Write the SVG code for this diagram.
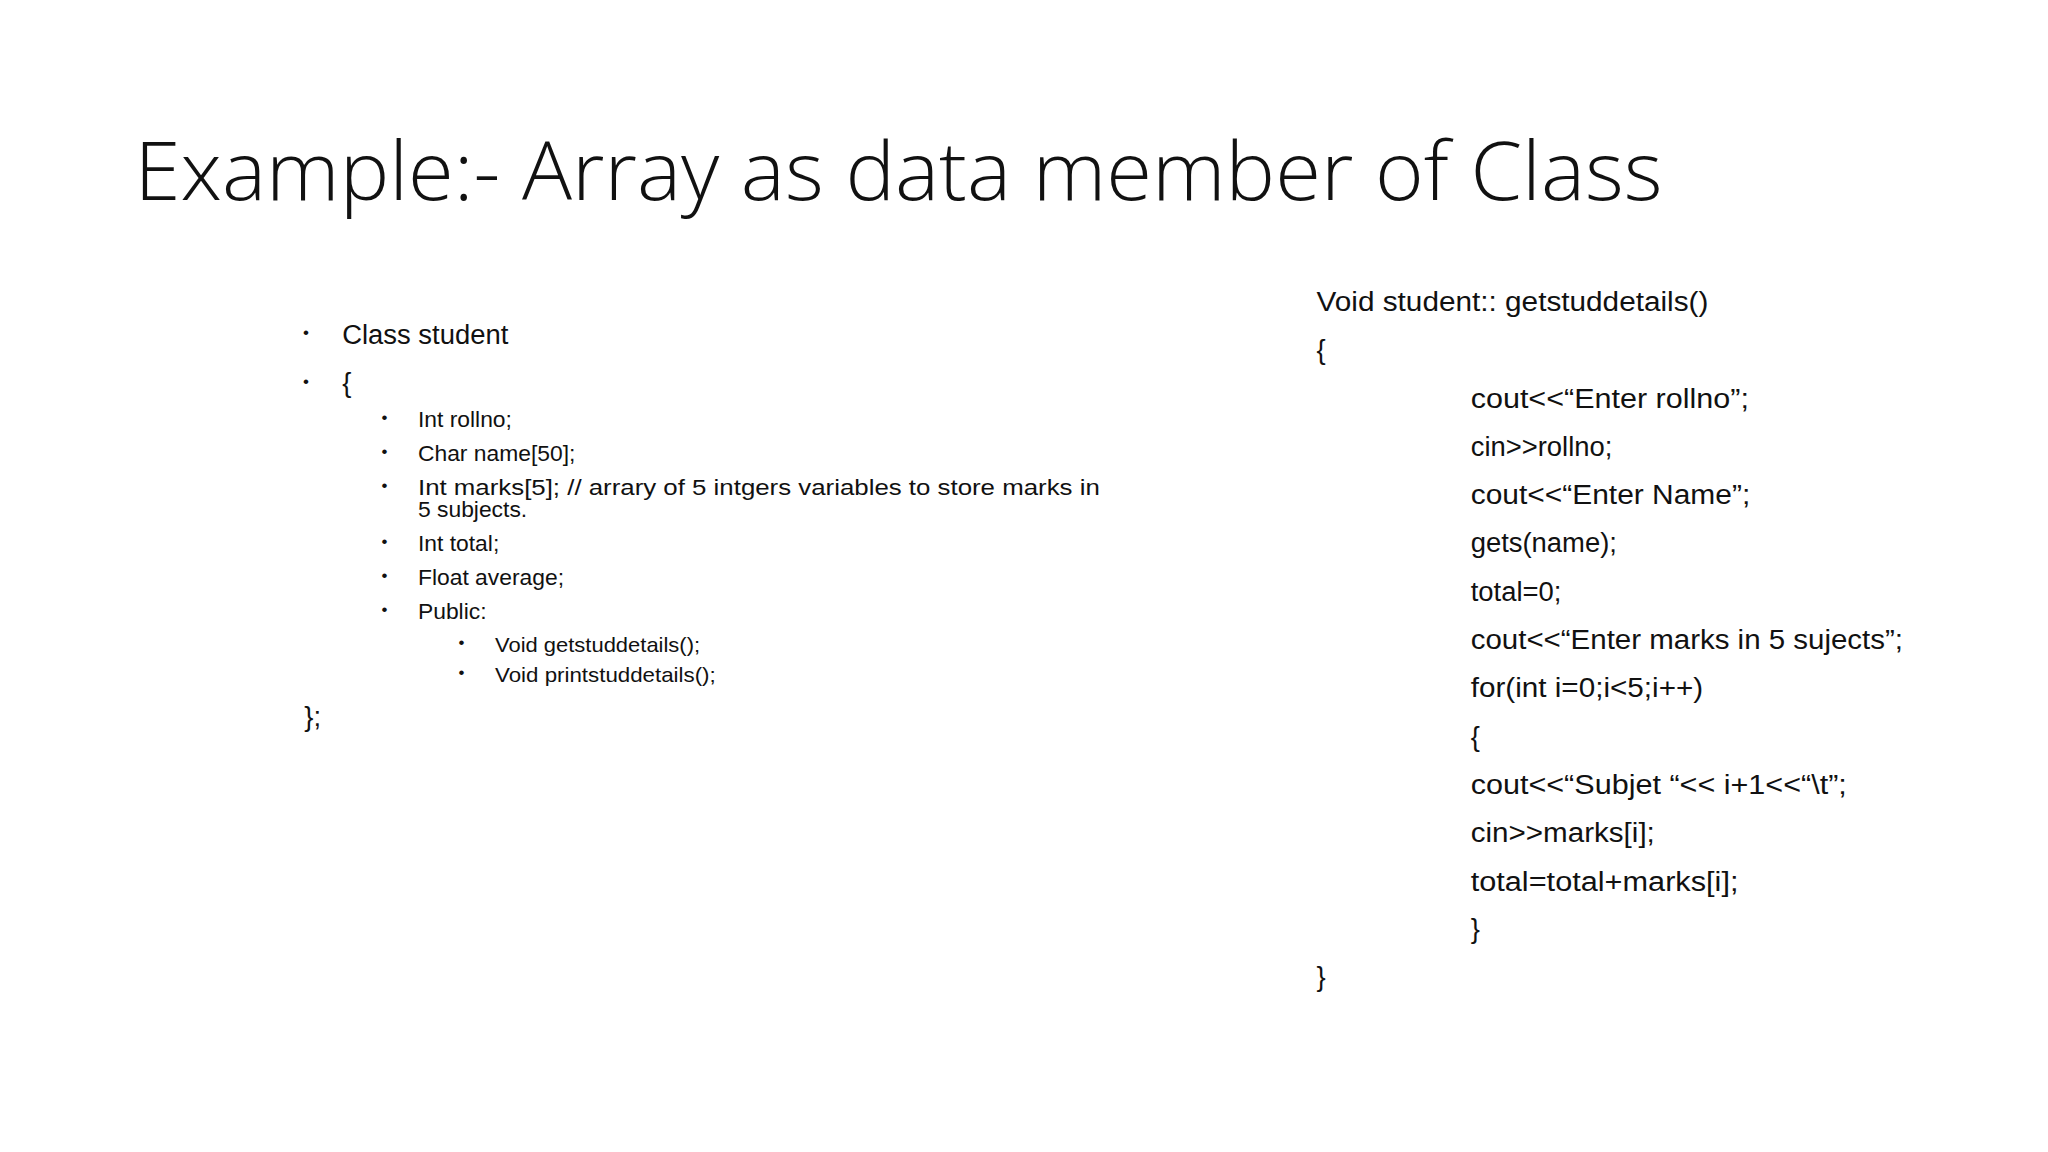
<svg xmlns="http://www.w3.org/2000/svg" width="2048" height="1152" viewBox="0 0 2048 1152">
<style>
text{font-family:"Liberation Sans",Arial,sans-serif;fill:#111}
.t{font-family:"Open Sans","Liberation Sans",sans-serif;font-size:62px;font-weight:300}
.l1{font-size:21px}
.l2{font-size:17.5px}
.l3{font-size:15px}
.r{font-size:21px}
.b{font-size:13px}
</style>
<rect width="2048" height="1152" fill="#fff"/>
<g transform="scale(1.30612)">
<g id="title"><text class="t" x="103" y="153" textLength="1170" lengthAdjust="spacingAndGlyphs">Example:- Array as data member of Class</text></g>
<g id="left">
<text class="b" x="232" y="259">•</text><text class="l1" x="262" y="263">Class student</text>
<text class="b" x="232" y="296">•</text><text class="l1" x="262" y="300">{</text>
<text class="b" x="292" y="324">•</text><text class="l2" x="320" y="327">Int rollno;</text>
<text class="b" x="292" y="350">•</text><text class="l2" x="320" y="353">Char name[50];</text>
<text class="b" x="292" y="376">•</text><text class="l2" x="320" y="379" textLength="522" lengthAdjust="spacingAndGlyphs">Int marks[5]; // arrary of 5 intgers variables to store marks in</text>
<text class="l2" x="320" y="396">5 subjects.</text>
<text class="b" x="292" y="419">•</text><text class="l2" x="320" y="422">Int total;</text>
<text class="b" x="292" y="445">•</text><text class="l2" x="320" y="448">Float average;</text>
<text class="b" x="292" y="471">•</text><text class="l2" x="320" y="474">Public:</text>
<text class="b" x="351" y="496">•</text><text class="l3" x="379" y="499" textLength="157" lengthAdjust="spacingAndGlyphs">Void getstuddetails();</text>
<text class="b" x="351" y="519">•</text><text class="l3" x="379" y="522" textLength="169" lengthAdjust="spacingAndGlyphs">Void printstuddetails();</text>
<text class="l1" x="233" y="556">};</text>
</g>
<g id="right">
<text class="r" x="1008" y="238" textLength="300" lengthAdjust="spacingAndGlyphs">Void student:: getstuddetails()</text>
<text class="r" x="1008" y="275">{</text>
<text class="r" x="1126" y="312" textLength="213" lengthAdjust="spacingAndGlyphs">cout&lt;&lt;“Enter rollno”;</text>
<text class="r" x="1126" y="349">cin&gt;&gt;rollno;</text>
<text class="r" x="1126" y="386" textLength="214" lengthAdjust="spacingAndGlyphs">cout&lt;&lt;“Enter Name”;</text>
<text class="r" x="1126" y="423">gets(name);</text>
<text class="r" x="1126" y="460">total=0;</text>
<text class="r" x="1126" y="497" textLength="331" lengthAdjust="spacingAndGlyphs">cout&lt;&lt;“Enter marks in 5 sujects”;</text>
<text class="r" x="1126" y="534" textLength="178" lengthAdjust="spacingAndGlyphs">for(int i=0;i&lt;5;i++)</text>
<text class="r" x="1126" y="571">{</text>
<text class="r" x="1126" y="608" textLength="288" lengthAdjust="spacingAndGlyphs">cout&lt;&lt;“Subjet “&lt;&lt; i+1&lt;&lt;“\t”;</text>
<text class="r" x="1126" y="645" textLength="141" lengthAdjust="spacingAndGlyphs">cin&gt;&gt;marks[i];</text>
<text class="r" x="1126" y="682" textLength="205" lengthAdjust="spacingAndGlyphs">total=total+marks[i];</text>
<text class="r" x="1126" y="718">}</text>
<text class="r" x="1008" y="755">}</text>
</g>
</g>
</svg>
